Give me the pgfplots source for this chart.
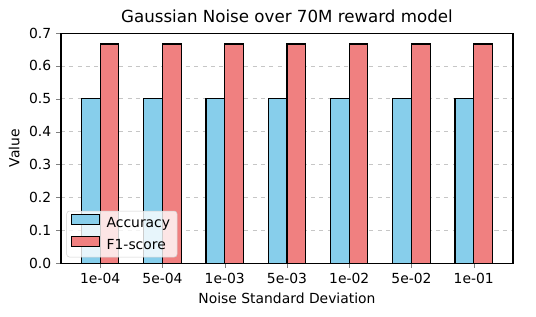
\documentclass[border=0pt]{standalone}
\usepackage{pgfplots}
\pgfplotsset{compat=1.18}
\usepackage{fontspec}
\setmainfont{DejaVu Sans}
\definecolor{skyblue}{HTML}{87CEEB}
\definecolor{lightcoral}{HTML}{F08080}
\begin{document}
\begin{tikzpicture}
\useasboundingbox (-43.9pt,-38.2pt) rectangle (342pt,189.4pt);
\begin{axis}[
  at={(0,0)}, anchor=south west,
  scale only axis,
  width=325.4pt, height=165.6pt,
  xmin=-0.63, xmax=6.63,
  ymin=0, ymax=0.7,
  xtick={0,1,2,3,4,5,6},
  xticklabels={1e-04,5e-04,1e-03,5e-03,1e-02,5e-02,1e-01},
  ytick={0,0.1,0.2,0.3,0.4,0.5,0.6,0.7},
  yticklabel style={/pgf/number format/.cd,fixed,fixed zerofill,precision=1},
  /pgf/number format/assume math mode=true,
  tick label style={font=\fontsize{10}{12}\selectfont},
  label style={font=\fontsize{10}{12}\selectfont},
  title style={font=\fontsize{12}{14}\selectfont, yshift=-2pt},
  title={Gaussian Noise over 70M reward model},
  xlabel={Noise Standard Deviation},
  ylabel={Value},
  tick align=outside,
  xtick pos=bottom, ytick pos=left,
  major tick length=3.5pt,
  ymajorgrids,
  grid style={dashed, gray!45, line width=0.5pt},
  axis line style={line width=0.8pt},
  legend style={font=\fontsize{10}{12}\selectfont, fill=white, fill opacity=0.8, text opacity=1, draw=gray!35, rounded corners=2pt, at={(0.012,0.025)}, anchor=south west, inner xsep=3pt, inner ysep=2pt, row sep=2.5pt, column sep=3pt},
  legend cell align=left,
  legend image code/.code={\draw[#1, sharp corners, line width=0.8pt, fill opacity=1] (0pt,-0.5pt) rectangle (20pt,6.5pt);},
]
\addplot[ybar, bar width=0.3, bar shift=-0.15, fill=skyblue, draw=black, line width=0.8pt] coordinates {(0,0.5) (1,0.5) (2,0.5) (3,0.5) (4,0.5) (5,0.5) (6,0.5)};
\addplot[ybar, bar width=0.3, bar shift=0.15, fill=lightcoral, draw=black, line width=0.8pt] coordinates {(0,0.6667) (1,0.6667) (2,0.6667) (3,0.6667) (4,0.6667) (5,0.6667) (6,0.6667)};
\legend{Accuracy, F1-score}
\end{axis}
\end{tikzpicture}
\end{document}
